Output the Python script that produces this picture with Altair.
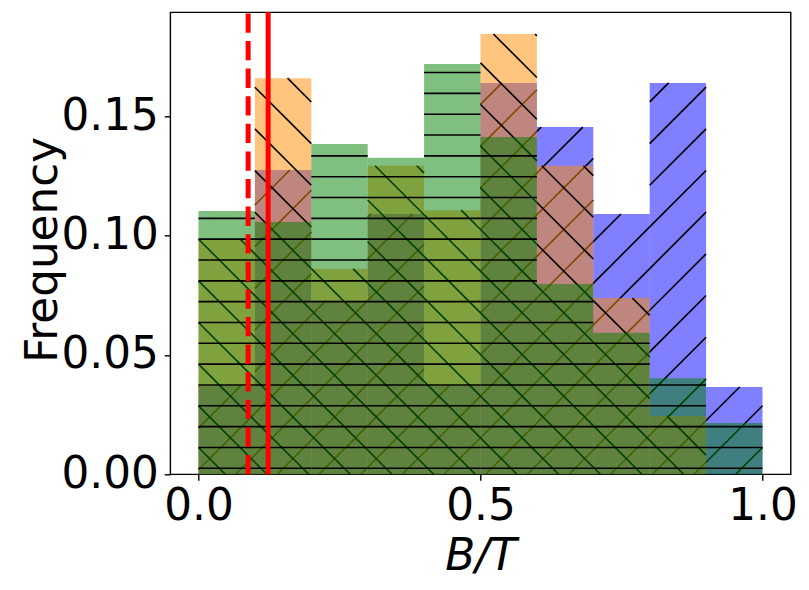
import math
import altair as alt
import pandas as pd

# ---------------- data ----------------
bin_starts = [0.0, 0.1, 0.2, 0.3, 0.4, 0.5, 0.6, 0.7, 0.8, 0.9]
bin_width = 0.1
blue_freq = [0.0370, 0.1275, 0.0727, 0.1091, 0.0370, 0.1640, 0.1455, 0.1091, 0.1640, 0.0366]
orange_freq = [0.0985, 0.1660, 0.0861, 0.1293, 0.1107, 0.1845, 0.1293, 0.0739, 0.0244, 0.0]
green_freq = [0.1103, 0.1057, 0.1384, 0.1327, 0.1719, 0.1413, 0.0797, 0.0593, 0.0403, 0.0215]
dashed_line_x = 0.088
solid_line_x = 0.1235
x_ticks = [0.0, 0.5, 1.0]
y_ticks = [0.0, 0.05, 0.10, 0.15]

# ---------------- layout / style ----------------
W, H = 620.4, 462
X_DOM = [-0.05, 1.05]
Y_DOM = [0.0, 0.1936]
FONT = "DejaVu Sans"
FS = 43.7
sx = W / (X_DOM[1] - X_DOM[0])
sy = H / (Y_DOM[1] - Y_DOM[0])

HATCH_H = 20.83   # spacing of '-' hatch lines (px)
HATCH_D = 41.67   # intercept spacing of diagonal hatch lines (px)
PH_H, PH_NE, PH_NW = 6.0, 18.0, 13.3

series = [
    ("blue", blue_freq, "#0000ff", "/"),
    ("orange", orange_freq, "#ff8c00", "\\"),
    ("green", green_freq, "#008000", "-"),
]


def hatch_segments(x0, x1, h, kind):
    px0 = (x0 - X_DOM[0]) * sx
    px1 = (x1 - X_DOM[0]) * sx
    top = h * sy
    segs = []
    if top <= 0:
        return segs
    if kind == "-":
        py = PH_H
        while py < top:
            segs.append((px0, py, px1, py))
            py += HATCH_H
    elif kind == "/":
        bmin, bmax = -px1, top - px0
        b = PH_NE + math.ceil((bmin - PH_NE) / HATCH_D) * HATCH_D
        while b <= bmax:
            lo, hi = max(px0, -b), min(px1, top - b)
            if hi - lo > 0.3:
                segs.append((lo, lo + b, hi, hi + b))
            b += HATCH_D
    else:
        emin, emax = px0, px1 + top
        e = PH_NW + math.ceil((emin - PH_NW) / HATCH_D) * HATCH_D
        while e <= emax:
            lo, hi = max(px0, e - top), min(px1, e)
            if hi - lo > 0.3:
                segs.append((lo, e - lo, hi, e - hi))
            e += HATCH_D
    out = []
    for a, b_, c, d in segs:
        out.append({
            "x": a / sx + X_DOM[0], "y": b_ / sy,
            "x2": c / sx + X_DOM[0], "y2": d / sy,
        })
    return out


xscale = alt.Scale(domain=X_DOM, nice=False, zero=False)
yscale = alt.Scale(domain=Y_DOM, nice=False, zero=False)
xaxis = alt.Axis(
    values=x_ticks, format=".1f", title="B/T", grid=False, domain=False,
    labelFontSize=FS, titleFontSize=FS, labelFont=FONT, titleFont=FONT,
    titleFontStyle="italic", titleFontWeight="normal",
    labelColor="black", titleColor="black", tickColor="black",
    tickSize=6, tickWidth=1.4, labelPadding=39, labelBaseline="alphabetic",
    labelFlush=False, titleBaseline="alphabetic", titleY=95,
)
yaxis = alt.Axis(
    values=y_ticks, format=".2f", title="Frequency", grid=False, domain=False,
    labelFontSize=FS, titleFontSize=FS, labelFont=FONT, titleFont=FONT,
    titleFontWeight="normal", labelColor="black", titleColor="black",
    tickColor="black", tickSize=6, tickWidth=1.4, labelPadding=6,
    labelFlush=False, titleAngle=270, titleBaseline="alphabetic",
    titleX=-113.6, titleY=237, titleAlign="center",
)

layers = []
for name, freqs, color, hatch in series:
    bars = pd.DataFrame({
        "x0": bin_starts,
        "x1": [b + bin_width for b in bin_starts],
        "freq": freqs,
    })
    layers.append(
        alt.Chart(bars).mark_rect(color=color, opacity=0.5, strokeWidth=0).encode(
            x=alt.X("x0:Q", scale=xscale, axis=xaxis),
            x2="x1:Q",
            y=alt.Y("freq:Q", scale=yscale, axis=yaxis),
            y2=alt.datum(0),
        )
    )
    rows = []
    for b, f in zip(bin_starts, freqs):
        rows.extend(hatch_segments(b, b + bin_width, f, hatch))
    hdf = pd.DataFrame(rows)
    layers.append(
        alt.Chart(hdf).mark_rule(color="black", strokeWidth=1.6, strokeCap="butt").encode(
            x=alt.X("x:Q", scale=xscale, axis=xaxis),
            x2="x2:Q",
            y=alt.Y("y:Q", scale=yscale, axis=yaxis),
            y2="y2:Q",
        )
    )

dashed = pd.DataFrame({"x": [dashed_line_x]})
solid = pd.DataFrame({"x": [solid_line_x]})
layers.append(
    alt.Chart(dashed).mark_rule(color="#ff0000", strokeWidth=5, strokeDash=[19.3, 8.3],
                                strokeCap="butt").encode(
        x=alt.X("x:Q", scale=xscale, axis=xaxis),
        y=alt.value(H), y2=alt.value(0),
    )
)
layers.append(
    alt.Chart(solid).mark_rule(color="#ff0000", strokeWidth=5, strokeCap="butt").encode(
        x=alt.X("x:Q", scale=xscale, axis=xaxis),
        y=alt.value(H), y2=alt.value(0),
    )
)

chart = alt.layer(*layers).properties(
    width=W, height=H,
    autosize=alt.AutoSizeParams(type="none"),
    padding={"left": 162.3, "top": 4.3, "right": 10, "bottom": 115},
    background="white",
).configure_view(stroke="black", strokeWidth=1.4)

chart.save("out.html", embed_options={"renderer": "svg", "actions": False})
